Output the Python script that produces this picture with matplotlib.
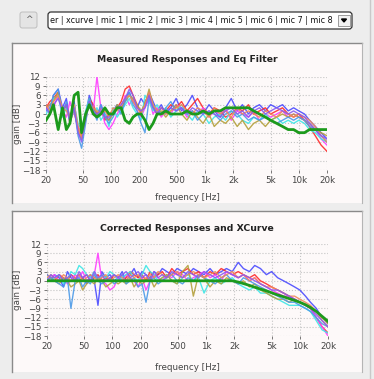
import matplotlib
matplotlib.use("Agg")
import matplotlib.pyplot as plt
from matplotlib.patches import Rectangle, FancyBboxPatch, Polygon
from matplotlib.lines import Line2D


######### Data #########
freqs = [20, 22, 24, 27, 30, 33, 36, 40, 44, 48, 53, 58, 64, 70, 77, 85, 94, 104, 115, 127,
         140, 155, 170, 188, 207, 228, 252, 278, 307, 340, 380, 430, 490, 560, 640, 730, 830, 950,
         1100, 1250, 1450, 1650, 1900, 2200, 2500, 2900, 3300, 3800, 4400, 5000, 5800, 6700, 7700,
         8800, 10000, 11500, 13000, 15000, 17300, 20000]

mic_names = ['mic 1', 'mic 2', 'mic 3', 'mic 4', 'mic 5', 'mic 6', 'mic 7', 'mic 8']
mic_colors = ['#4a4aff', '#ff2a2a', '#ff3cff', '#3ee6e6', '#b4a03c', '#4c9ae8', '#f08a5a', '#8a5cf0']

measured = [
    [3, 0, 6, 8, 2, 5, -2, 4, -6, -8, 0, 6, 2, -1, 3, 0, -2, 1, 3, 1, 5, 7, 4, 2, 5, 3, 7, 4, 1, 3,
     0, 2, 5, 1, 3, 6, 2, 0, 3, 1, -1, 2, 5, 1, 3, 0, 2, 3, 1, 3, 2, 3, 1, 2, 1, 0, -2, -4, -6, -8],
    [2, 4, 5, 7, 0, 3, -3, 2, -5, -7, -1, 5, 3, 0, 2, -2, 0, 1, 2, 4, 8, 9, 6, 3, 0, 4, 6, 2, 0, 2,
     1, 3, 2, 4, 1, 3, 5, 2, 0, 2, 1, -1, 0, 2, 1, 3, 0, 1, 2, 0, 1, 2, 0, -1, 0, -2, -4, -7, -10, -12],
    [1, 3, 2, 6, 1, -1, 4, 0, -4, -6, -2, 4, 1, 12, 2, -3, -5, -3, 0, 2, 6, 3, 5, 1, -1, 2, 5, 0, 2, -1,
     1, 0, 3, 2, -1, 1, 0, 2, -1, 1, 0, 2, -2, 1, 0, -1, 1, -2, 0, -1, 0, 1, -1, 0, -1, -2, -3, -5, -8, -10],
    [0, 2, 5, 6, -1, 2, -2, 3, -3, -5, 1, 5, 0, 2, -2, 0, -4, 2, -1, 1, 3, 5, 2, 0, -2, 6, 4, 1, 3, 0,
     2, -1, 1, 3, 0, -2, 1, 0, -3, -1, 0, -2, 1, 0, -2, -3, -1, -2, 0, -2, -1, -3, -2, -3, -2, -3, -5, -6, -8, -9],
    [2, 3, 4, 7, 1, 3, -1, 1, -5, -7, -2, 4, 2, 0, 1, -1, -2, 0, 3, 2, 4, 6, 5, 3, 1, 3, 8, 3, 0, 1,
     -1, 1, 3, 0, -2, 1, -1, -3, 0, -4, -2, -3, -1, -4, -2, -5, -3, -2, -4, -2, -1, 0, -1, 0, -1, -2, -3, -5, -6, -7],
    [1, 2, 6, 8, 0, 4, -3, 2, -7, -11, -3, 5, 1, -2, 3, -1, -3, -1, 2, 0, 4, 7, 3, 1, -3, -6, 5, 2, 1, 0,
     2, 4, 1, 2, 0, 1, -2, 0, 1, 0, -2, 0, 1, -1, 0, -2, -1, -2, -1, -2, -3, -2, -1, -2, -1, -2, -4, -5, -7, -9],
    [3, 1, 4, 6, 2, 1, -1, 3, -4, -8, 0, 3, 2, 1, 0, 1, -1, 2, 1, 3, 5, 6, 4, 2, 0, 3, 7, 3, 1, 2,
     0, 1, 2, 3, 1, 0, 2, 1, -1, 2, 0, 1, -1, 2, 0, 1, 0, -1, 1, 0, -1, 1, 0, -1, 0, -1, -2, -4, -7, -9],
    [2, 0, 3, 5, 1, 3, -2, 2, -6, -9, -1, 4, 1, 0, 1, -1, -1, 0, 2, 3, 5, 8, 6, 2, 1, 2, 6, 2, 0, 2,
     1, 2, 1, 2, 0, 2, 1, 0, 1, 0, -1, 1, 2, 0, 1, -1, 1, 2, 0, 1, 2, 1, 0, 1, 0, -1, -3, -5, -7, -8],
]

eq_filter = [-2, 0, 3, -5, 2, -5, -3, 6, 7, -6, 0, 3, 0, -1, 0, 2, 0, 0, 2, 2,
             -2, -3, -1, 0, 0, -2, -5, -3, 0, 0, 1, 0, 0, 0, 1, 0, 0, 1, 0, 1,
             1, 2, 2, 2, 2, 2, 1, 0, -1, -2, -3, -4, -5, -5, -6, -6, -5, -5, -5, -5]

corrected = [
    [1, 0, 2, 1, -2, 3, 1, 0, 2, 1, -1, 2, 0, -8, 3, 1, 2, 0, 1, 3, 0, 2, 4, 1, 3, 2, 1, 3, 2, 4,
     3, 2, 4, 3, 2, 4, 3, 2, 4, 2, 3, 4, 3, 6, 4, 3, 5, 4, 2, 3, 1, 0, -1, -2, -3, -5, -7, -9, -12, -14],
    [2, 1, 0, 2, 1, 0, 2, 1, 0, 1, 2, 0, 1, 2, 0, 1, 0, 2, 1, 0, 1, 3, 2, 1, 2, 0, 3, 1, 2, 3,
     1, 4, 2, 3, 4, 2, 3, 1, 3, 2, 4, 3, 2, 3, 2, 1, 2, 0, -1, -2, -3, -4, -5, -6, -7, -8, -9, -12, -15, -17],
    [0, 1, 2, 0, 1, -1, 0, 2, 1, 3, 0, 1, 2, 9, 0, -1, -3, -2, 1, 0, 2, 1, 0, -2, 1, -3, 0, 2, 1, 0,
     2, 1, 3, 2, 0, 1, 2, 3, 1, 2, 0, 3, 2, 1, 2, 0, 1, -1, -2, -3, -4, -5, -5, -6, -7, -8, -9, -12, -15, -18],
    [1, 0, 1, 2, -1, 0, 3, 2, 5, 4, 2, 1, 3, 0, 2, 1, 3, 2, 0, 1, 2, 3, 1, 0, 2, 5, 3, 2, 0, 1,
     2, 0, -1, 1, 2, 0, 1, -4, 0, 1, -1, 0, 1, -1, -2, -3, -2, -4, -4, -5, -6, -7, -8, -8, -8, -9, -10, -13, -16, -17],
    [0, 1, 0, -1, 1, 0, -2, -1, 0, -3, -1, 0, -1, 1, 0, -2, -1, 0, -1, 0, -1, 1, -2, 0, -1, 0, 1, -2, 0, 1,
     2, 0, -1, 3, 5, -5, 2, 1, -2, 0, -1, 1, 0, -1, 0, -2, -1, -3, -4, -5, -6, -6, -7, -6, -7, -8, -9, -10, -12, -14],
    [2, 1, 0, -1, -2, 1, -9, 0, 1, -2, 0, -1, 2, 0, -1, 0, 1, -1, 0, 2, -1, 0, 1, -2, -1, -7, 0, 1, -1, 0,
     1, 2, 0, -1, 1, 0, 2, 1, 0, -1, 1, 2, 0, -1, 1, 0, -1, -2, -3, -4, -5, -6, -7, -7, -8, -9, -10, -12, -14, -15],
    [1, 2, 1, 0, 2, 1, 0, 1, 2, 0, 1, 2, 1, 0, 1, 2, 0, 1, 2, 1, 0, 2, 1, 2, 0, 1, 2, 1, 3, 2,
     1, 2, 3, 1, 2, 3, 2, 1, 2, 3, 1, 2, 3, 1, 2, 0, 1, -1, -2, -2, -3, -4, -5, -5, -6, -7, -8, -10, -13, -15],
    [0, 2, 1, 2, 0, 1, 2, 0, 3, 1, 2, 0, 3, 1, 2, 0, 1, 2, 1, 2, 3, 1, 2, 3, 1, 2, 0, 3, 1, 2,
     1, 3, 2, 1, 3, 2, 1, 3, 2, 1, 2, 3, 2, 1, 2, 1, 0, -1, -2, -3, -3, -4, -5, -6, -7, -8, -9, -11, -13, -15],
]

xcurve = [0] * 43 + [-0.4, -0.9, -1.5, -2.1, -2.7, -3.3, -3.9, -4.6, -5.2, -5.8, -6.4,
                     -7.0, -7.8, -8.7, -10.0, -11.6, -13.2]

xticks = [20, 50, 100, 200, 500, 1000, 2000, 5000, 10000, 20000]
xtick_labels = ['20', '50', '100', '200', '500', '1k', '2k', '5k', '10k', '20k']
yticks = [12, 9, 6, 3, 0, -3, -6, -9, -12, -15, -18]

combo_text = 'er | xcurve | mic 1 | mic 2 | mic 3 | mic 4 | mic 5 | mic 6 | mic 7 | mic 8'

W, H = 374, 379
BG = '#ededed'
PANEL_BG = '#fdf9f9'


def fx(px):
    return px / W


def fy(py):
    return 1 - py / H


def rect(fig, x0, y0, x1, y1, **kw):
    # pixel box (top-left origin) drawn in figure coords
    r = Rectangle((fx(x0), fy(y1)), fx(x1) - fx(x0), fy(y0) - fy(y1),
                  transform=fig.transFigure, **kw)
    fig.patches.append(r)
    return r


def line(fig, xs, ys, **kw):
    fig.lines.append(Line2D([fx(x) for x in xs], [fy(y) for y in ys],
                            transform=fig.transFigure, **kw))


def draw_panel(fig, top, bottom, title, ax_box, series, thick, title_y, xlabel_y):
    rect(fig, 12, top, 362, bottom, facecolor=PANEL_BG, edgecolor='none', zorder=-1)
    line(fig, [12, 362], [top, top], color='#8a8a8a', lw=1.0)
    line(fig, [12, 12], [top, bottom], color='#8a8a8a', lw=1.0)
    line(fig, [362, 362], [top, bottom], color='#b5b5b5', lw=0.8)

    x0, y0, x1, y1 = ax_box
    ax = fig.add_axes([fx(x0), fy(y1), fx(x1) - fx(x0), fy(y0) - fy(y1)])
    ax.set_zorder(5)
    ax.set_facecolor('none')
    for data, color in zip(series, mic_colors):
        ax.plot(freqs, data, color=color, lw=1.0, alpha=0.9)
    ax.plot(freqs, thick, color='#1c9a1c', lw=2.0)

    ax.set_xscale('log')
    ax.set_xlim(20, 20000)
    ax.set_ylim(-18, 12)
    ax.set_xticks(xticks)
    ax.set_xticklabels(xtick_labels)
    ax.minorticks_off()
    ax.set_yticks(yticks)
    ax.tick_params(labelsize=6.3, colors='#444444', length=2, pad=2, width=0.5)
    ax.grid(True, color='#c4c4c4', linestyle=':', lw=0.8)
    for s in ax.spines.values():
        s.set_visible(False)

    fig.text(fx(187), fy(title_y), title, ha='center', va='center',
             fontsize=6.7, fontweight='bold', color='#222222')
    fig.text(fx(187), fy(xlabel_y), 'frequency [Hz]', ha='center', va='center',
             fontsize=6.3, color='#444444')
    fig.text(fx(18), fy((y0 + y1) / 2), 'gain [dB]', ha='center', va='center',
             fontsize=6.3, color='#444444', rotation=90)
    return ax


def main():
    fig = plt.figure(figsize=(W / 100, H / 100), dpi=100, facecolor=BG)

    # right side splitter line
    line(fig, [370, 370], [0, 379], color='#c9c9c9', lw=1.0)

    # toolbar: button + combo box
    fig.patches.append(FancyBboxPatch((fx(20), fy(28)), fx(17), fy(12) - fy(28),
                                      boxstyle='round,pad=0,rounding_size=0.006',
                                      transform=fig.transFigure, facecolor='#e4e4e4',
                                      edgecolor='#b8b8b8', lw=0.6))
    fig.text(fx(28.5), fy(20), '^', ha='center', va='center', fontsize=6.5, color='#555555')

    fig.patches.append(FancyBboxPatch((fx(48), fy(29)), fx(304), fy(12) - fy(29),
                                      boxstyle='round,pad=0,rounding_size=0.008',
                                      transform=fig.transFigure, facecolor='white',
                                      edgecolor='#333333', lw=0.9))
    fig.text(fx(50), fy(20.5), combo_text, ha='left', va='center', fontsize=5.8,
             color='#111111', family='DejaVu Sans')
    rect(fig, 338, 15, 350, 26, facecolor='#f2f2f2', edgecolor='#777777', lw=0.5)
    fig.patches.append(Polygon([(fx(341.5), fy(19)), (fx(346.5), fy(19)), (fx(344), fy(22))],
                               closed=True, transform=fig.transFigure, color='black'))

    draw_panel(fig, 43, 203, 'Measured Responses and Eq Filter', (46, 76.7, 327, 170),
               measured, eq_filter, 60, 197)
    draw_panel(fig, 211, 372, 'Corrected Responses and XCurve', (47, 244, 328, 336),
               corrected, xcurve, 228, 367)

    fig.savefig('out.png', dpi=100, facecolor=BG)


if __name__ == '__main__':
    main()
